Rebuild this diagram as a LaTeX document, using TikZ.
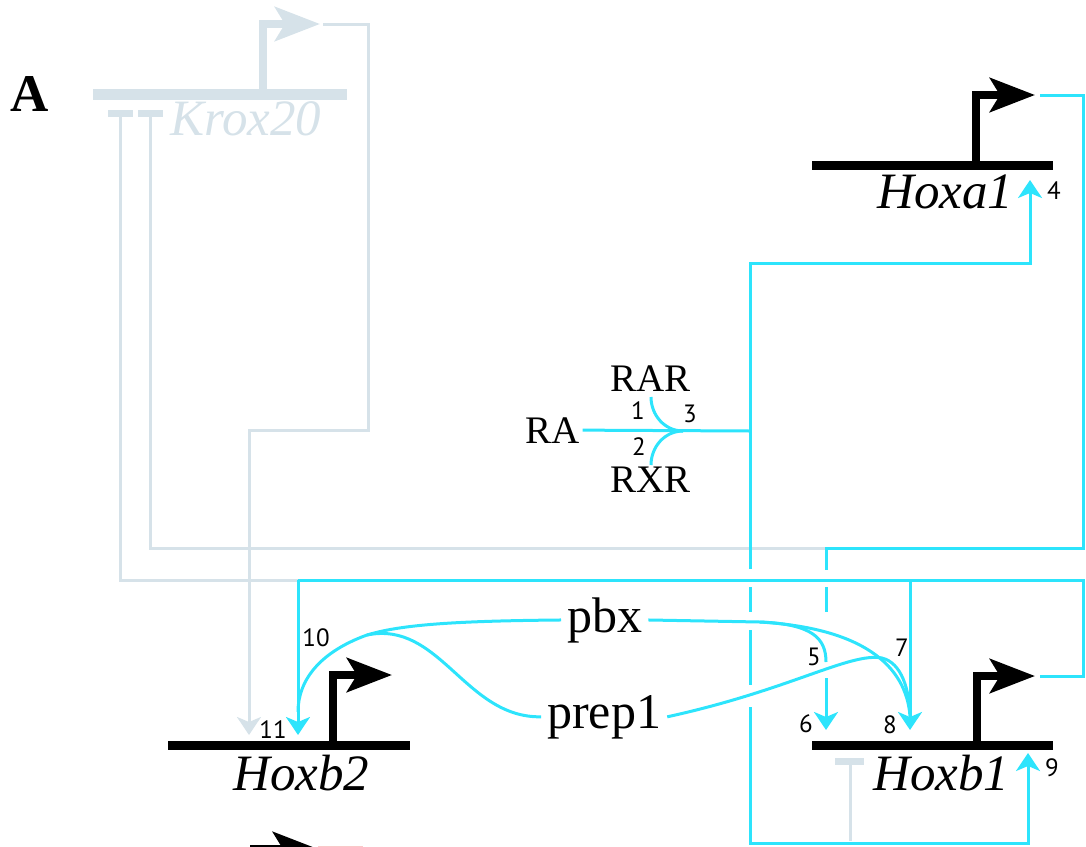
\documentclass[tikz,border=0pt]{standalone}
\usepackage{fontspec}
\setmainfont{Liberation Serif}
\newfontfamily\digitfont{PT Sans}
\usetikzlibrary{arrows.meta}

\definecolor{hoxcyan}{RGB}{45,228,252}
\definecolor{kroxgray}{RGB}{214,226,233}
\definecolor{nextpink}{RGB}{250,200,200}

\begin{document}
\begin{tikzpicture}[
    x=1pt, y=-1pt,
    genebar/.style={line width=9pt},
    prom/.style={line width=8pt, -{Stealth[length=45pt, width=34pt, inset=10pt]}},
    link/.style={hoxcyan, line width=3pt},
    act/.style={link, -{Stealth[length=18pt, width=24pt, inset=5pt]}},
    inh/.style={kroxgray, line width=3pt},
    tbar/.style={kroxgray, line width=7pt},
    genename/.style={font=\fontsize{51}{51}\selectfont\itshape, inner sep=0pt, anchor=base west},
    prot/.style={font=\fontsize{50}{50}\selectfont, inner sep=0pt, anchor=base west},
    lig/.style={font=\fontsize{39}{39}\selectfont, inner sep=0pt, anchor=base west},
    num/.style={font=\fontsize{25}{25}\digitfont, inner sep=0pt}
]
    \useasboundingbox (0,0) rectangle (1086,846);
    \clip (0,0) rectangle (1086,846);

    % 文字节点
    \node[font=\fontsize{53}{53}\selectfont\bfseries, inner sep=0pt, anchor=base west] (panel) at (10,111) {A};
    \node[genename, text=kroxgray] (krox) at (170,135) {Krox20};
    \node[genename] (hoxa) at (877,208) {Hoxa1};
    \node[genename] (hoxb1) at (873,790) {Hoxb1};
    \node[genename] (hoxb2) at (233,790) {Hoxb2};
    \node[lig] (ra) at (525,443) {RA};
    \node[lig] (rar) at (610,391) {RAR};
    \node[lig] (rxr) at (610,492) {RXR};
    \node[prot] (pbx) at (567,632) {pbx};
    \node[prot] (prep) at (547,728) {prep1};
    \coordinate (jn) at (367,635);   % pbx 与 prep1 汇合点
    \coordinate (split) at (760,622); % pbx 分叉点

    % 1. Krox20 的灰色连线
    \draw[inh] (120,113) |- (298,580);
    \draw[inh] (150,113) |- (826,548);
    \draw[tbar] (108,113) -- (133,113);
    \draw[tbar] (138,113) -- (163,113);
    \draw[inh, -{Stealth[length=18pt, width=24pt, inset=5pt]}] (323,24) -| (368,430) -- (249,430) -- (249,735);
    \draw[inh] (850,841) -- (850,761);
    \draw[tbar] (835,761) -- (864,761);

    % 2. RA 与受体
    \draw[link] ([xshift=3pt]ra.east) -- (750,431);
    \draw[link] (651,397) to[out=-90, in=180] (683,431);
    \draw[link] (651,465) to[out=90, in=180] (683,431);

    % 3. 竖线 (交叉处断开)
    \draw[act] (750,569) -- (750,263) -| (1030,180);
    \draw[link] (750,587) -- (750,612);
    \draw[link] (750,630) -- (750,685);
    \draw[act] (750,707) -- (750,843) -| (1028,753);

    % 4. Hoxa1 输出
    \draw[link] (1040,95) -| (1083,548) -- (826,548) -- (826,570);
    \draw[link] (826,587) -- (826,612);
    \draw[act] (826,678) -- (826,730);

    % 5. Hoxb1 输出
    \draw[link] (1040,676) -| (1083,580) -- (298,580);
    \draw[act] (298,580) -- (298,735);
    \draw[act] (910,580) -- (910,730);

    % 6. pbx 与 prep1 的曲线
    \draw[link] ([xshift=-6pt]pbx.west) .. controls (450,621) and (400,625) .. (jn)
        .. controls (320,652) and (298,680) .. (298,712);
    \draw[link] (jn) .. controls (440,620) and (465,718) .. ([xshift=-6pt]prep.west);
    \draw[link] ([xshift=6pt]pbx.east) -- (split) .. controls (812,624) and (826,638) .. (826,662);
    \draw[link] (split) .. controls (862,628) and (906,665) .. (910,716);
    \draw[link] ([xshift=6pt]prep.east) .. controls (790,690) and (850,652) .. (882,658)
        .. controls (902,663) and (909,690) .. (910,714);

    % 7. 基因
    \draw[genebar, kroxgray, line width=11pt] (93,94) -- (347,94);
    \draw[prom, kroxgray] (263,94) |- (320,24);
    \draw[genebar] (812,165) -- (1053,165);
    \draw[prom] (976,165) |- (1035,95);
    \draw[genebar] (812,745) -- (1053,745);
    \draw[prom] (977,745) |- (1035,676);
    \draw[genebar] (168,745) -- (410,745);
    \draw[prom] (333,745) |- (392,675);
    \draw[nextpink, line width=6pt] (318,849) -- (363,849);
    \draw[prom] (250,849) -- (318,849);

    % 8. 编号
    \node[num] (n1) at (638,411) {1};
    \node[num] (n2) at (639,447) {2};
    \node[num] (n3) at (690,414) {3};
    \node[num] (n4) at (1054,191) {4};
    \node[num] (n5) at (814,657) {5};
    \node[num] (n6) at (806,724) {6};
    \node[num] (n7) at (902,648) {7};
    \node[num] (n8) at (890,725) {8};
    \node[num] (n9) at (1052,768) {9};
    \node[num] (n10) at (316,638) {10};
    \node[num] (n11) at (273,730) {11};

\end{tikzpicture}
\end{document}
